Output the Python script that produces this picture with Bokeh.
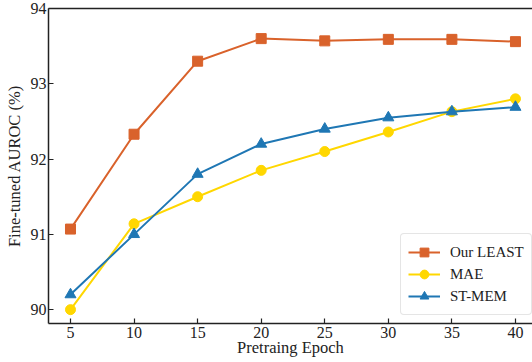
from bokeh.plotting import figure
from bokeh.models import FixedTicker, Legend, LegendItem, LinearAxis, Range1d
from bokeh.embed import file_html
from bokeh.resources import INLINE

epochs = [5, 10, 15, 20, 25, 30, 35, 40]
least = [91.07, 92.33, 93.30, 93.60, 93.57, 93.59, 93.59, 93.56]
mae = [90.00, 91.14, 91.50, 91.85, 92.10, 92.36, 92.63, 92.80]
stmem = [90.20, 91.00, 91.80, 92.20, 92.40, 92.55, 92.63, 92.69]
x_ticks = [5, 10, 15, 20, 25, 30, 35, 40]
y_ticks = [90, 91, 92, 93, 94]

FONT = "Liberation Serif"
C_LEAST = "#D9622B"
C_MAE = "#FFD700"
C_STMEM = "#1F77B4"

XMIN, XMAX = 3.27, 41.34
YMIN, YMAX = 89.816, 94.0

p = figure(width=532, height=362, output_backend="svg", toolbar_location=None,
           x_range=Range1d(XMIN, XMAX), y_range=Range1d(YMIN, YMAX),
           min_border_left=48, min_border_right=0, min_border_top=8, min_border_bottom=39)
p.outline_line_color = None
p.xgrid.visible = False
p.ygrid.visible = False
p.background_fill_color = "white"
p.border_fill_color = "white"

xax = p.below[0]
yax = p.left[0]
for ax in (xax, yax):
    ax.axis_line_color = "#222222"
    ax.axis_line_width = 1.5
    ax.major_tick_in = 5
    ax.major_tick_out = 0
    ax.major_tick_line_color = "#222222"
    ax.major_tick_line_width = 1.2
    ax.minor_tick_line_color = None
    ax.major_label_text_font = FONT
    ax.major_label_text_font_size = "16px"
    ax.major_label_text_color = "#222222"
    ax.axis_label_text_font = FONT
    ax.axis_label_text_font_size = "16.5px"
    ax.axis_label_text_font_style = "normal"
    ax.axis_label_text_color = "#222222"

xax.ticker = FixedTicker(ticks=x_ticks)
yax.ticker = FixedTicker(ticks=y_ticks)
xax.axis_label = "Pretraing Epoch"
yax.axis_label = "Fine-tuned AUROC (%)"
xax.major_label_standoff = 3
xax.axis_label_standoff = -3
yax.major_label_standoff = 2
yax.axis_label_standoff = 4

top = LinearAxis(major_tick_line_color=None, minor_tick_line_color=None,
                 major_label_text_font_size="0px", axis_line_color="#222222",
                 axis_line_width=1.5, major_label_standoff=0,
                 ticker=FixedTicker(ticks=[]))
p.add_layout(top, "above")

l1 = p.line(epochs, least, line_color=C_LEAST, line_width=2)
m1 = p.scatter(epochs, least, marker="square", size=10, fill_color=C_LEAST, line_color=C_LEAST)
l2 = p.line(epochs, mae, line_color=C_MAE, line_width=2)
m2 = p.scatter(epochs, mae, marker="circle", size=10, fill_color=C_MAE, line_color=C_MAE)
l3 = p.line(epochs, stmem, line_color=C_STMEM, line_width=2)
m3 = p.scatter(epochs, stmem, marker="triangle", size=11, fill_color=C_STMEM, line_color=C_STMEM)

legend = Legend(items=[
    LegendItem(label="Our LEAST", renderers=[l1, m1]),
    LegendItem(label="MAE", renderers=[l2, m2]),
    LegendItem(label="ST-MEM", renderers=[l3, m3]),
], location=(352, 8))
legend.label_text_font = FONT
legend.label_text_font_size = "15px"
legend.label_text_color = "#222222"
legend.glyph_width = 32
legend.glyph_height = 22
legend.spacing = 0
legend.padding = 7
legend.margin = 0
legend.label_standoff = 10
legend.border_line_color = "#cccccc"
legend.border_line_width = 1
legend.border_radius = 4
legend.background_fill_alpha = 1.0
p.add_layout(legend, "center")

open("out.html", "w").write(file_html(p, INLINE))
